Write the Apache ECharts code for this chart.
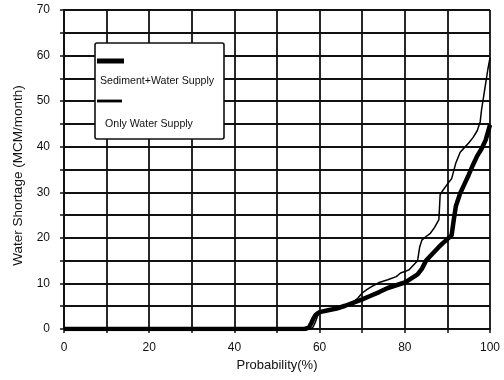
<!DOCTYPE html>
<html>
<head>
<meta charset="utf-8">
<script src="https://cdn.jsdelivr.net/npm/echarts@6/dist/echarts.min.js"></script>
<style>html,body{margin:0;padding:0;background:#fff;}#c{width:504px;height:380px;}</style>
</head>
<body>
<div id="c"></div>
<script>
// Sediment+Water Supply (thick line)
var sedProb  = [0,56.5,57.5,58,58.5,59,59.5,60,62,64,66,68,70,72,74,76,78,80,81,82,83,84,85,86,87,88,89,90,91,91.5,92,93,94,95,96,97,98,99,100];
var sedShort = [0,0,0.3,1.2,2.2,3,3.4,3.7,4.1,4.5,5.1,5.8,6.5,7.3,8.1,9,9.6,10.2,10.8,11.4,12,13.2,15,16,17,18,18.9,19.7,20.6,24,27,29.8,31.8,33.8,36,38,39.5,41.5,44.8];
// Only Water Supply (thin line)
var owsProb  = [0,57,58,58.5,59,59.5,60,62,64,66,68,69,70,71,72,74,76,78,79,80,81,82,83,83.5,84,85,86,87,88,88.3,89,90,91,92,93,94,95,96,97,97.7,98,98.5,99,99.5,100];
var owsShort = [0,0,0,0.5,1.5,2.8,3.6,4.1,4.5,5.2,6,6.8,7.9,8.6,9.2,10.2,10.8,11.5,12.3,12.6,13,14,15,18,19.5,20.3,21,22.3,24,29.5,30.5,31.8,33,36.5,38.8,39.8,40.8,42,43.5,45.5,48,51,54,57,59.5];
var seriesNames = ['Sediment+Water Supply', 'Only Water Supply'];
var xTickLabels = [0,20,40,60,80,100];
var yTickLabels = [0,10,20,30,40,50,60,70];

function pairs(xs, ys){ return xs.map(function(x,i){ return [x, ys[i]]; }); }

var FONT = 'Liberation Sans';
var chart = echarts.init(document.getElementById('c'), null, {renderer:'canvas'});
chart.setOption({
  backgroundColor:'#fff',
  animation:false,
  grid:{left:64, right:14, top:10, bottom:51, containLabel:false},
  xAxis:{
    type:'value', min:0, max:100, interval:10,
    name:'Probability(%)', nameLocation:'middle', nameGap:25,
    nameTextStyle:{color:'#111', fontFamily:FONT, fontSize:13},
    axisLine:{show:true, onZero:false, lineStyle:{color:'#111', width:2}},
    axisTick:{show:true, length:4, lineStyle:{color:'#111', width:1.5}},
    axisLabel:{color:'#111', fontFamily:FONT, fontSize:12, margin:13,
      formatter:function(v){ return xTickLabels.indexOf(v) >= 0 ? String(v) : ''; }},
    splitLine:{show:true, lineStyle:{color:'#111', width:1.8}}
  },
  yAxis:{
    type:'value', min:0, max:70, interval:5,
    name:'Water Shortage (MCM/month)', nameLocation:'middle', nameGap:38, nameRotate:90,
    nameTextStyle:{color:'#111', fontFamily:FONT, fontSize:13.5, padding:[0,12,0,0]},
    axisLine:{show:true, onZero:false, lineStyle:{color:'#111', width:2}},
    axisTick:{show:true, length:4, lineStyle:{color:'#111', width:1.5}},
    axisLabel:{color:'#111', fontFamily:FONT, fontSize:12, margin:14,
      formatter:function(v){ return yTickLabels.indexOf(v) >= 0 ? String(v) : ''; }},
    splitLine:{show:true, lineStyle:{color:'#111', width:1.8}}
  },
  series:[
    {name:seriesNames[1], type:'line', data:pairs(owsProb, owsShort), showSymbol:false,
     lineStyle:{color:'#000', width:1.5}, z:3},
    {name:seriesNames[0], type:'line', data:pairs(sedProb, sedShort), showSymbol:false,
     lineStyle:{color:'#000', width:4.5}, z:4}
  ],
  graphic:[
    {type:'rect', shape:{x:95, y:43, width:129, height:96, r:2}, z:100,
     style:{fill:'#fff', stroke:'#111', lineWidth:1.6}},
    {type:'line', shape:{x1:97, y1:61, x2:124, y2:61}, z:101, style:{stroke:'#000', lineWidth:5}},
    {type:'text', x:100, y:81, z:101, style:{text:seriesNames[0], fill:'#111', font:'10.6px "Liberation Sans"', textVerticalAlign:'middle'}},
    {type:'line', shape:{x1:97, y1:101, x2:122, y2:101}, z:101, style:{stroke:'#000', lineWidth:2.8}},
    {type:'text', x:105, y:124, z:101, style:{text:seriesNames[1], fill:'#111', font:'10.6px "Liberation Sans"', textVerticalAlign:'middle'}}
  ]
});
</script>
</body>
</html>
